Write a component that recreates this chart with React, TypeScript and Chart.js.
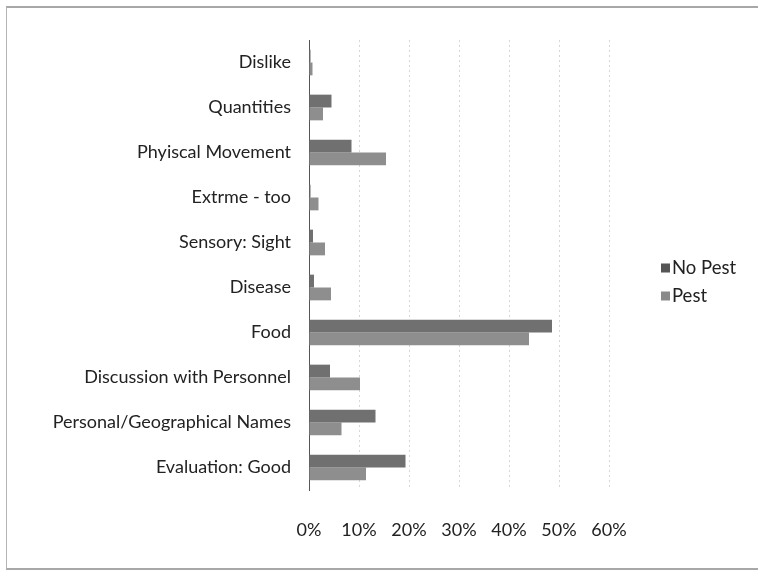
import React, { useEffect, useRef } from "react";
import { Chart, registerables } from "chart.js";

Chart.register(...registerables);

const categories = [
  "Dislike",
  "Quantities",
  "Phyiscal Movement",
  "Extrme - too",
  "Sensory: Sight",
  "Disease",
  "Food",
  "Discussion with Personnel",
  "Personal/Geographical Names",
  "Evaluation: Good",
];

// Share of responses (%) per category
const noPest = [0.3, 4.5, 8.5, 0.3, 0.8, 1.0, 48.6, 4.2, 13.3, 19.3];
const pest = [0.7, 2.8, 15.4, 1.9, 3.2, 4.4, 44.0, 10.2, 6.5, 11.4];

const xTicks = [0, 10, 20, 30, 40, 50, 60];

const FONT = "Lato, 'DejaVu Sans', sans-serif";

// Legend drawn to the right of the plot area, using each dataset's label and colour
const sideLegend = {
  id: "sideLegend",
  afterDraw(chart: any) {
    const ctx = chart.ctx;
    const x = chart.chartArea.right + 52;
    const y0 = 268;
    const gap = 28;
    ctx.save();
    ctx.font = `18.5px ${FONT}`;
    ctx.textBaseline = "middle";
    ctx.textAlign = "left";
    chart.data.datasets.forEach((ds: any, i: number) => {
      const y = y0 + i * gap;
      ctx.fillStyle = ds.legendColor || ds.backgroundColor;
      ctx.fillRect(x, y - 4.5, 9, 9);
      ctx.fillStyle = "#222";
      ctx.fillText(ds.label, x + 11, y);
    });
    ctx.restore();
  },
};

export default function App() {
  const canvasRef = useRef<HTMLCanvasElement | null>(null);

  useEffect(() => {
    if (!canvasRef.current) return;
    const chart = new Chart(canvasRef.current, {
      type: "bar",
      data: {
        labels: categories,
        datasets: [
          {
            label: "No Pest",
            data: noPest,
            backgroundColor: "#707070",
            legendColor: "#555555",
            categoryPercentage: 0.571,
            barPercentage: 1,
          } as any,
          {
            label: "Pest",
            data: pest,
            backgroundColor: "#8e8e8e",
            legendColor: "#8a8a8a",
            categoryPercentage: 0.571,
            barPercentage: 1,
          } as any,
        ],
      },
      options: {
        indexAxis: "y",
        animation: false,
        responsive: false,
        layout: { padding: { top: 40, right: 149, bottom: 8, left: 0 } },
        plugins: {
          legend: { display: false },
          tooltip: { enabled: false },
        },
        scales: {
          x: {
            min: 0,
            max: 60,
            afterBuildTicks(scale: any) {
              scale.ticks = xTicks.map((v) => ({ value: v }));
            },
            afterFit(scale: any) {
              scale.height = 75;
            },
            ticks: {
              callback: (v: any) => `${v}%`,
              color: "#222",
              font: { family: FONT, size: 18 },
              padding: 29,
              maxRotation: 0,
            },
            grid: {
              color: "#d6d6d6",
              drawTicks: false,
            },
            border: { display: false, dash: [2, 3] },
          },
          y: {
            afterFit(scale: any) {
              scale.width = 309;
            },
            ticks: {
              color: "#222",
              font: { family: FONT, size: 18 },
              padding: 18,
              autoSkip: false,
            },
            grid: { display: false, drawTicks: false },
            border: { display: true, color: "#555", width: 1, dash: [1, 2] },
          },
        },
      },
      plugins: [sideLegend],
    });
    return () => chart.destroy();
  }, []);

  return (
    <div style={{ position: "absolute", left: 0, top: 0, width: 758, height: 573, background: "#fff" }}>
      <div
        style={{
          position: "absolute",
          left: 6,
          top: 6,
          width: 760,
          height: 560,
          borderTop: "2px solid #a8a8a8",
          borderLeft: "1px solid #b5b5b5",
          borderBottom: "2px solid #a8a8a8",
        }}
      />
      <canvas
        ref={canvasRef}
        width={758}
        height={573}
        style={{ position: "absolute", left: 0, top: 0, width: 758, height: 573 }}
      />
    </div>
  );
}
